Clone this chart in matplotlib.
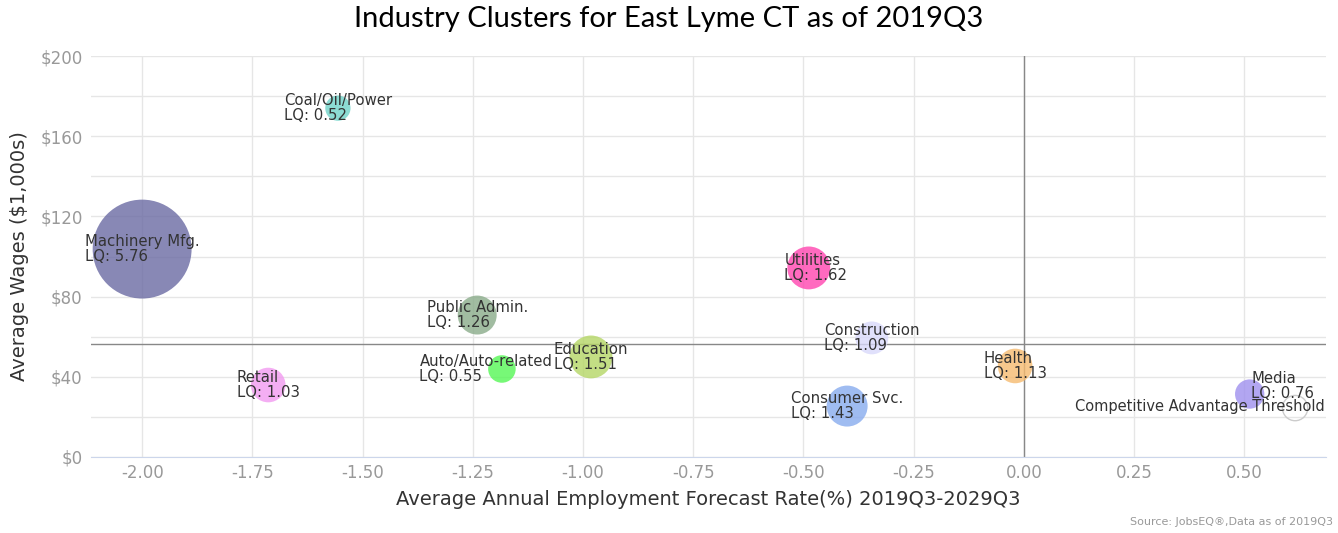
import numpy as np
import matplotlib
matplotlib.use("Agg")
import matplotlib.pyplot as plt

# ============================================================================
# DONNÉES
# ============================================================================

clusters = ["Machinery Mfg.", "Coal/Oil/Power", "Public Admin.", "Auto/Auto-related",
            "Education", "Retail", "Utilities", "Construction", "Consumer Svc.",
            "Health", "Media"]
lq = ["5.76", "0.52", "1.26", "0.55", "1.51", "1.03", "1.62", "1.09", "1.43", "1.13", "0.76"]
forecast = [-2.00, -1.556, -1.240, -1.184, -0.982, -1.714, -0.488, -0.345, -0.401, -0.020, 0.512]
wages = [103.7, 174.0, 70.8, 43.9, 49.9, 35.9, 94.3, 59.4, 25.4, 45.4, 31.4]
employment = [2450, 160, 380, 190, 460, 300, 460, 270, 420, 300, 215]

threshold_label = "Competitive Advantage Threshold"
threshold_x = 0.615
threshold_y = 24.4
threshold_emp = 160

avg_forecast = 0.0
avg_wage = 56.4

colors = ["#6a6aa3", "#6fd3c8", "#8aac8a", "#55f755", "#b5d665", "#f29af0",
          "#ff45b0", "#d9d9fb", "#87abee", "#f6bb70", "#9f90ee"]

# décalages des étiquettes (pixels) pour éviter les chevauchements
label_dx = {"Auto/Auto-related": -16, "Media": 33, "Utilities": 7}
label_dy = {"Media": 8}

# ============================================================================
# FIGURE
# ============================================================================

fig = plt.figure(figsize=(13.38, 5.33), dpi=100)
ax = fig.add_axes([0.068, 0.1426, 0.923, 0.7523])

k = 2.07  # conversion aire -> points^2
ax.scatter(forecast, wages, s=np.array(employment) * k, c=colors, alpha=0.8,
           edgecolors="none", zorder=3)
ax.scatter([threshold_x], [threshold_y], s=threshold_emp * k, facecolors="none",
           edgecolors="#cccccc", linewidths=1, zorder=3)

for name, q, x, y in zip(clusters, lq, forecast, wages):
    ax.annotate(f"{name}\nLQ: {q}", (x, y),
                xytext=(label_dx.get(name, 0), label_dy.get(name, 0)),
                textcoords="offset pixels", ha="center", va="center",
                multialignment="left", fontsize=10.7, color="#333333",
                linespacing=0.95, zorder=5)
ax.text(0.683, threshold_y + 1, threshold_label, ha="right", va="center",
        fontsize=10.5, color="#333333", zorder=5)

ax.axvline(avg_forecast, color="#888888", lw=1, zorder=2)
ax.axhline(avg_wage, color="#888888", lw=1, zorder=2)

ax.set_xlim(-2.116, 0.685)
ax.set_ylim(0, 200)
ax.set_xticks(np.arange(-2.0, 0.51, 0.25))
ax.set_xticklabels([f"{v:.2f}" for v in np.arange(-2.0, 0.51, 0.25)])
ax.set_yticks(np.arange(0, 201, 40))
ax.set_yticklabels([f"${v}" for v in range(0, 201, 40)])
ax.set_yticks(np.arange(0, 201, 20), minor=True)

ax.grid(True, which="both", color="#e6e6e6", lw=1, zorder=0)
ax.set_axisbelow(True)
for s in ["top", "right", "left"]:
    ax.spines[s].set_visible(False)
ax.spines["bottom"].set_color("#ccd6eb")
ax.tick_params(axis="both", which="both", length=0, labelsize=12, colors="#999999")
ax.tick_params(axis="x", pad=5)
ax.tick_params(axis="y", pad=6)

ax.set_xlabel("Average Annual Employment Forecast Rate(%) 2019Q3-2029Q3",
              fontsize=14, color="#333333", labelpad=6)
ax.set_ylabel("Average Wages ($1,000s)", fontsize=14, color="#333333", labelpad=8)

fig.suptitle("Industry Clusters for East Lyme CT as of 2019Q3", fontsize=21,
             fontfamily="Lato", color="#000000", y=0.988)
fig.text(0.996, 0.012, "Source: JobsEQ®,Data as of 2019Q3", ha="right", va="bottom",
         fontsize=8, color="#999999")

fig.savefig("out.png", dpi=100)
